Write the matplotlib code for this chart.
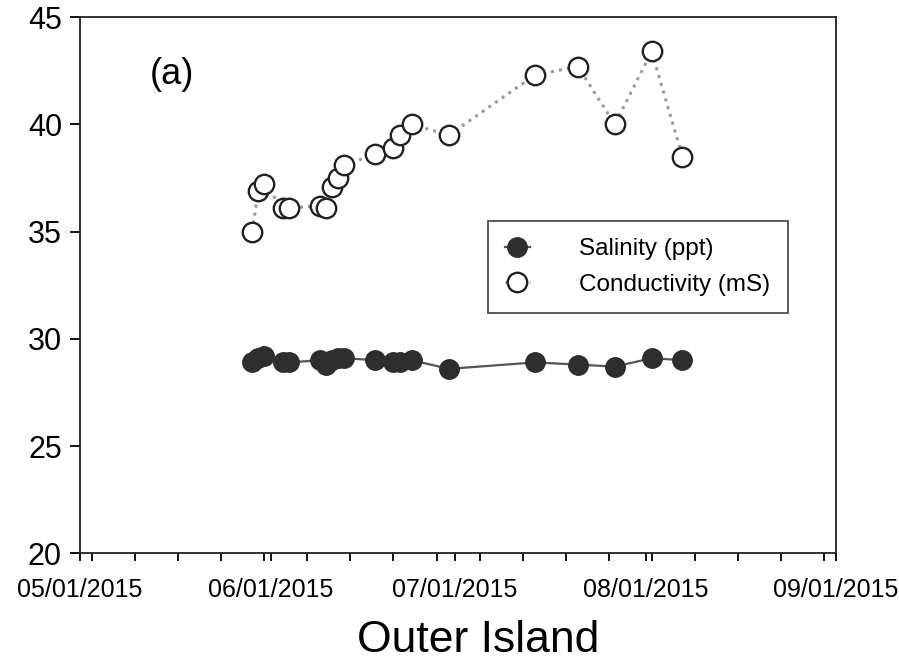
"""
Outer Island salinity and conductivity time series
"""

import datetime as dt
import matplotlib
matplotlib.use('Agg')
import matplotlib.pyplot as plt
import matplotlib.dates as mdates

#---------------------------------------------------------------------------------------------------
# Input data
#---------------------------------------------------------------------------------------------------

dates = ['2015-05-29', '2015-05-30', '2015-05-31', '2015-06-03', '2015-06-04',
         '2015-06-09', '2015-06-10', '2015-06-11', '2015-06-12', '2015-06-13',
         '2015-06-18', '2015-06-21', '2015-06-22', '2015-06-24', '2015-06-30',
         '2015-07-14', '2015-07-21', '2015-07-27', '2015-08-02', '2015-08-07']

salinity = [28.9, 29.1, 29.2, 28.9, 28.9,
            29.0, 28.8, 29.0, 29.1, 29.1,
            29.0, 28.9, 28.9, 29.0, 28.6,
            28.9, 28.8, 28.7, 29.1, 29.0]

conductivity = [35.0, 36.9, 37.2, 36.1, 36.1,
                36.2, 36.1, 37.1, 37.5, 38.1,
                38.6, 38.9, 39.5, 40.0, 39.5,
                42.3, 42.7, 40.0, 43.4, 38.5]

yticks = [20, 25, 30, 35, 40, 45]
xlim = ('2015-05-01', '2015-09-01')

out_fname = 'out.png'

#---------------------------------------------------------------------------------------------------
# Main Program
#---------------------------------------------------------------------------------------------------

plt.rcParams['font.family'] = ['Liberation Sans', 'DejaVu Sans']

t = [dt.datetime.strptime(s, '%Y-%m-%d') for s in dates]

fig = plt.figure(figsize=(8.99, 6.61), dpi=100)
ax = fig.add_axes([0.089, 0.163, 0.841, 0.811])

ax.plot(t, salinity, ls='-', c='#555555', lw=1.6, marker='o', ms=14,
        mfc='#2e2e2e', mec='#2e2e2e', label='Salinity (ppt)')
ax.plot(t, conductivity, ls=':', c='#9a9a9a', lw=2.2, marker='o', ms=14,
        mfc='white', mec='#222222', mew=1.7, label='Conductivity (mS)')

# Axes formatting
ax.set_xlim(dt.datetime.strptime(xlim[0], '%Y-%m-%d'), dt.datetime.strptime(xlim[1], '%Y-%m-%d'))
ax.set_ylim(20, 45)
ax.set_yticks(yticks)
ax.xaxis.set_major_locator(mdates.MonthLocator())
ax.xaxis.set_major_formatter(mdates.DateFormatter('%m/%d/%Y'))
ax.xaxis.set_minor_locator(mdates.WeekdayLocator(byweekday=mdates.SU))
ax.tick_params(axis='x', which='both', direction='out', length=6, width=1.3, labelsize=18, pad=12)
ax.tick_params(axis='y', which='major', direction='out', length=7, width=1.3, labelsize=22, pad=6)
for sp in ax.spines.values():
    sp.set_linewidth(1.3)
    sp.set_color('#222222')

ax.set_xlabel('Outer Island', size=32)
ax.xaxis.set_label_coords(0.526, -0.125)

ax.text(0.092, 0.893, '(a)', size=26, transform=ax.transAxes, ha='left', va='center')

leg = ax.legend(loc='upper left', bbox_to_anchor=(0.540, 0.619), fontsize=17.5, frameon=True,
                fancybox=False, edgecolor='#222222', borderpad=0.7, handlelength=1.0,
                handletextpad=2.05, labelspacing=0.55, borderaxespad=0)
leg.get_frame().set_linewidth(1.3)

plt.savefig(out_fname, dpi=100)
plt.close()
